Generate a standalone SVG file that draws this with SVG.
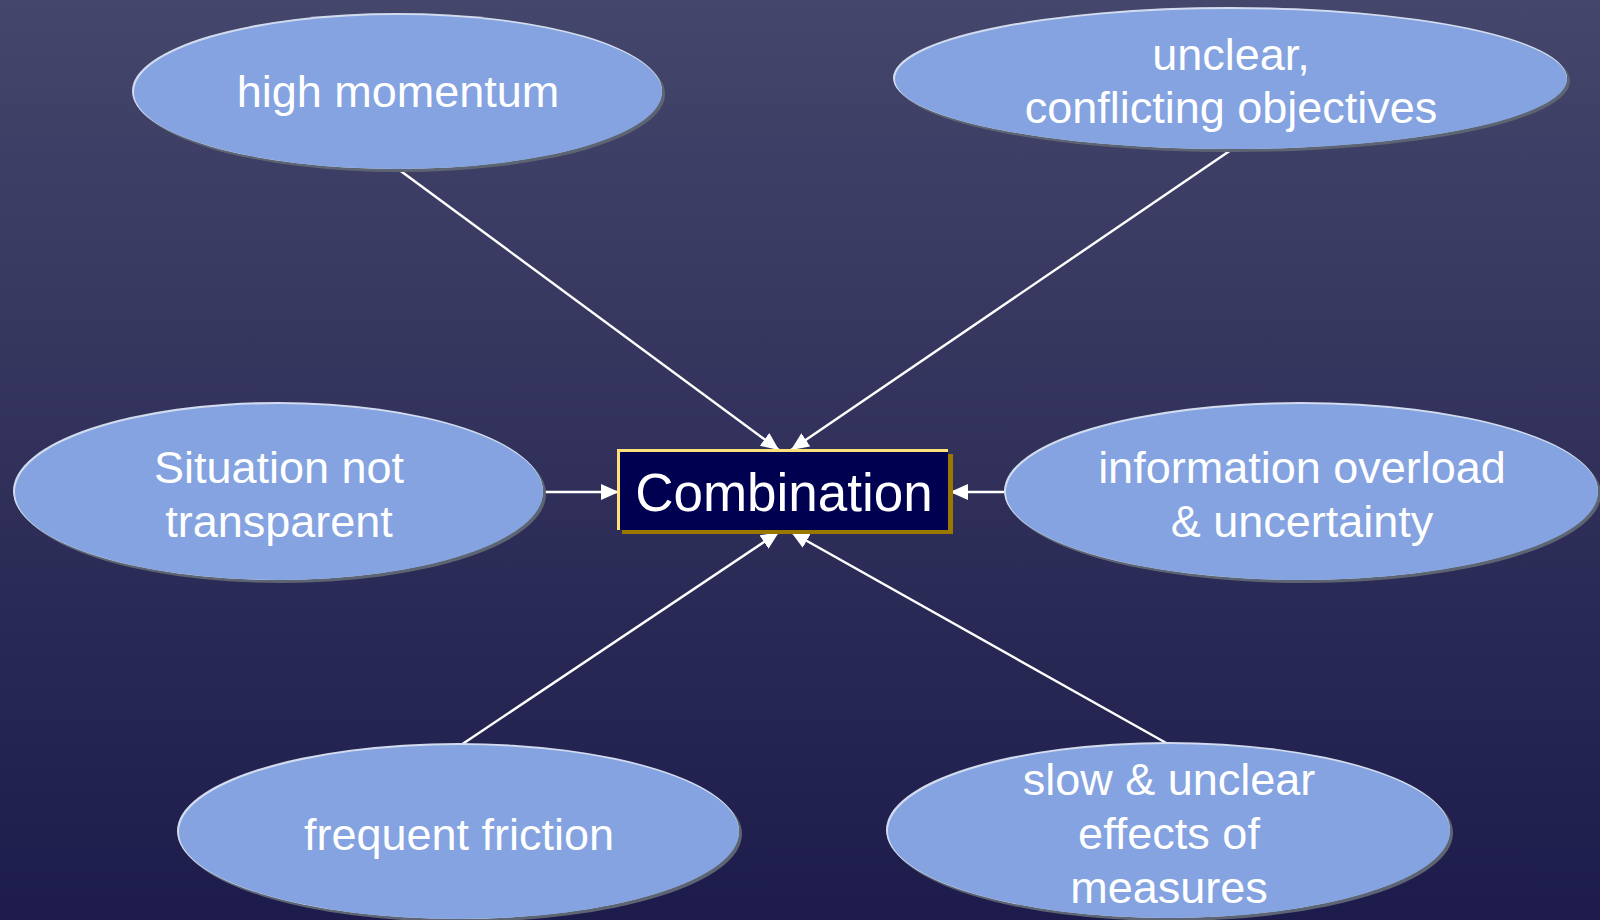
<svg xmlns="http://www.w3.org/2000/svg" width="1600" height="920" viewBox="0 0 1600 920">
<defs>
<linearGradient id="bg" x1="0" y1="0" x2="0" y2="1">
<stop offset="0" stop-color="#45466B"/>
<stop offset="1" stop-color="#1C1B4B"/>
</linearGradient>
<marker id="arr" viewBox="0 0 18 16" refX="18" refY="8" markerWidth="18" markerHeight="16" markerUnits="userSpaceOnUse" orient="auto">
<path d="M0,0 L18,8 L0,16 Z" fill="#FFFFFF"/>
</marker>
<style>
.sh{fill:#5E6572}
.hl{fill:#D2DCEE}
.el{fill:#84A3E0}
.t{font-family:"Liberation Sans",Arial,sans-serif;font-size:45px;fill:#FFFFFF;text-anchor:middle}
.c{stroke:#FFFFFF;stroke-width:2.4;fill:none;marker-end:url(#arr)}
</style>
</defs>
<rect x="0" y="0" width="1600" height="920" fill="url(#bg)"/>
<g id="connectors">
<line class="c" x1="398" y1="169" x2="779" y2="450"/>
<line class="c" x1="1231" y1="150" x2="791" y2="450"/>
<line class="c" x1="544" y1="492" x2="619" y2="492"/>
<line class="c" x1="1005" y1="492" x2="950" y2="492"/>
<line class="c" x1="461" y1="745" x2="779" y2="532"/>
<line class="c" x1="1168" y1="744" x2="791" y2="532"/>
</g>
<g id="high-momentum">
<ellipse class="sh" cx="400" cy="94" rx="265" ry="78"/>
<ellipse class="hl" cx="397" cy="91" rx="265" ry="78"/>
<ellipse class="el" cx="398" cy="92" rx="264" ry="77"/>
<text class="t" x="398" y="107">high momentum</text>
</g>
<g id="unclear-objectives">
<ellipse class="sh" cx="1233" cy="81" rx="337" ry="71"/>
<ellipse class="hl" cx="1230" cy="78" rx="337" ry="71"/>
<ellipse class="el" cx="1231" cy="79" rx="336" ry="70"/>
<text class="t" x="1231" y="70">unclear,</text>
<text class="t" x="1231" y="123">conflicting objectives</text>
</g>
<g id="situation-not-transparent">
<ellipse class="sh" cx="281" cy="494" rx="265" ry="89"/>
<ellipse class="hl" cx="278" cy="491" rx="265" ry="89"/>
<ellipse class="el" cx="279" cy="492" rx="264" ry="88"/>
<text class="t" x="279" y="483">Situation not</text>
<text class="t" x="279" y="537">transparent</text>
</g>
<g id="information-overload">
<ellipse class="sh" cx="1304" cy="494" rx="297" ry="89"/>
<ellipse class="hl" cx="1301" cy="491" rx="297" ry="89"/>
<ellipse class="el" cx="1302" cy="492" rx="296" ry="88"/>
<text class="t" x="1302" y="483">information overload</text>
<text class="t" x="1302" y="537">&amp; uncertainty</text>
</g>
<g id="frequent-friction">
<ellipse class="sh" cx="461" cy="834" rx="281" ry="88"/>
<ellipse class="hl" cx="458" cy="831" rx="281" ry="88"/>
<ellipse class="el" cx="459" cy="832" rx="280" ry="87"/>
<text class="t" x="459" y="850">frequent friction</text>
</g>
<g id="slow-unclear-effects">
<ellipse class="sh" cx="1171" cy="833" rx="282" ry="88"/>
<ellipse class="hl" cx="1168" cy="830" rx="282" ry="88"/>
<ellipse class="el" cx="1169" cy="831" rx="281" ry="87"/>
<text class="t" x="1169" y="795">slow &amp; unclear</text>
<text class="t" x="1169" y="849">effects of</text>
<text class="t" x="1169" y="903">measures</text>
</g>
<g id="combination">
<rect x="622" y="454" width="331" height="80" fill="#9A7800"/>
<rect x="617" y="449" width="331" height="81" fill="#FFE07A"/>
<rect x="620" y="452" width="328" height="78" fill="#000050"/>
<text x="784" y="511" font-family="Liberation Sans, Arial, sans-serif" font-size="53" fill="#FFFFFF" text-anchor="middle">Combination</text>
</g>
</svg>
